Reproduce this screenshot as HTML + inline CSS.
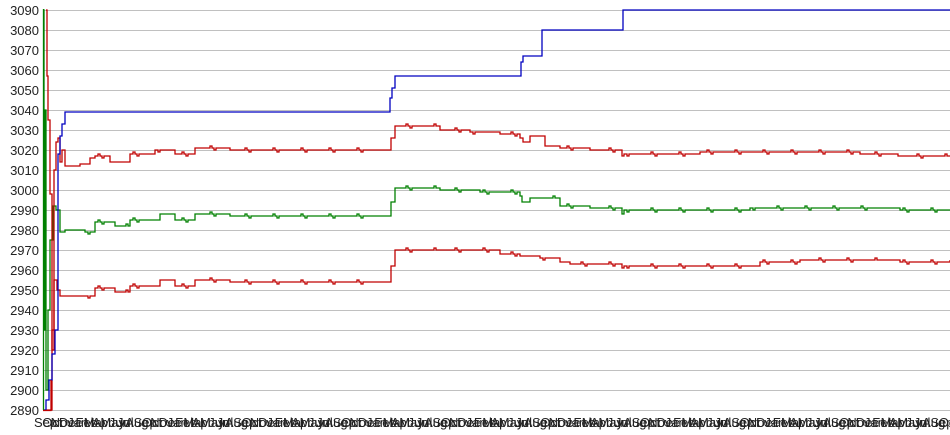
<!DOCTYPE html>
<html><head><meta charset="utf-8"><style>
body{margin:0;background:#fff;width:950px;height:435px;overflow:hidden}
svg{display:block;font-family:"Liberation Sans",sans-serif}
</style></head><body>
<svg id="s" width="950" height="435" xmlns="http://www.w3.org/2000/svg">
<g id="grid" stroke="#c0c0c0" stroke-width="1"></g>
<g id="lab" font-size="13" fill="#222" text-anchor="end"></g>
<g id="ser" fill="none" stroke-width="1.3"></g>
<g id="xl" font-size="13" fill="#222"></g>
</svg>
<script>
var NS="http://www.w3.org/2000/svg";
function el(t,a,p){var e=document.createElementNS(NS,t);for(var k in a)e.setAttribute(k,a[k]);p.appendChild(e);return e;}
function Y(v){return 410-(v-2890)*2;}
var g=document.getElementById('grid'),l=document.getElementById('lab'),s=document.getElementById('ser'),xl=document.getElementById('xl');
for(var v=2890;v<=3090;v+=10){var y=Y(v)+0.5;el('line',{x1:43,x2:950,y1:y,y2:y},g);var t=el('text',{x:39,y:Y(v)+5},l);t.textContent=v;}
var m=["Sep","Oct","Nov","Dec","Jan","Feb","Mar","Apr","May","Jun","Jul","Aug"];
for(var i=0;i<110;i++){var t=el('text',{x:34+i*8.3,y:427},xl);t.textContent=m[i%12];}
function step(pts){var d="M"+pts[0][0]+" "+Y(pts[0][1]);for(var i=1;i<pts.length;i++){d+=" H"+pts[i][0]+" V"+Y(pts[i][1]);}return d;}
function jitter(pts){var o=[pts[0]];for(var i=1;i<pts.length;i++){var a=pts[i-1],b=pts[i];if(b[0]-a[0]>8&&a[0]>60){for(var x=a[0]+3;x<b[0]-3;x+=4){var r=(x*13)%7;o.push([x,a[1]+(r==0?1:(r==3?-1:0))]);o.push([x+2,a[1]]);}}o.push(b);}return o;}
var blue=[[43,2890],[46,2895],[49,2905],[52,2918],[55,2930],[58,3018],[60,3027],[62,3033],[65,3039],[388,3039],[390,3046],[392,3051],[395,3057],[519,3057],[521,3064],[523,3067],[540,3067],[542,3080],[620,3080],[623,3090],[950,3090]];
var r1=[[46,3090],[47,3057],[48,3035],[50,2998],[52,2920],[54,3010],[56,3024],[58,3026],[60,3014],[62,3020],[65,3012],[80,3013],[90,3016],[95,3017],[110,3014],[130,3018],[155,3020],[175,3018],[195,3021],[230,3020],[388,3020],[391,3026],[395,3032],[440,3030],[470,3029],[500,3028],[520,3026],[523,3024],[530,3027],[540,3027],[545,3022],[560,3021],[590,3020],[620,3020],[622,3017],[624,3018],[700,3019],[760,3019],[800,3019],[860,3018],[895,3018],[898,3017],[950,3017]];
var g1=[[43,3090],[44,2930],[45,3040],[46,2900],[48,2940],[50,2975],[53,2992],[56,2990],[60,2979],[65,2980],[85,2979],[95,2984],[115,2982],[130,2985],[150,2985],[160,2988],[175,2985],[195,2988],[230,2987],[388,2987],[391,2994],[395,3001],[440,3000],[480,2999],[520,2997],[522,2994],[530,2996],[560,2992],[590,2991],[620,2991],[622,2988],[624,2990],[700,2990],[750,2991],[880,2991],[900,2990],[950,2990]];
var r2=[[43,2890],[50,2890],[52,2930],[54,2955],[57,2950],[60,2947],[85,2947],[95,2951],[115,2949],[130,2952],[150,2952],[160,2955],[175,2952],[195,2955],[230,2954],[388,2954],[391,2962],[395,2970],[440,2970],[500,2968],[520,2967],[540,2966],[560,2964],[570,2963],[620,2963],[622,2961],[624,2962],[700,2962],[760,2964],[800,2965],[880,2965],[900,2964],[950,2965]];
el('path',{d:step(jitter(g1)),stroke:'#008000'},s);
el('path',{d:step(jitter(r2)),stroke:'#c00000'},s);
el('path',{d:step(jitter(r1)),stroke:'#c00000'},s);
el('path',{d:step(blue),stroke:'#0000c0'},s);
el('path',{d:"M43.5 9 V410",stroke:'#008000'},s);
el('path',{d:"M43 410.5 H51 V380",stroke:'#c00000'},s);
</script>
</body></html>
